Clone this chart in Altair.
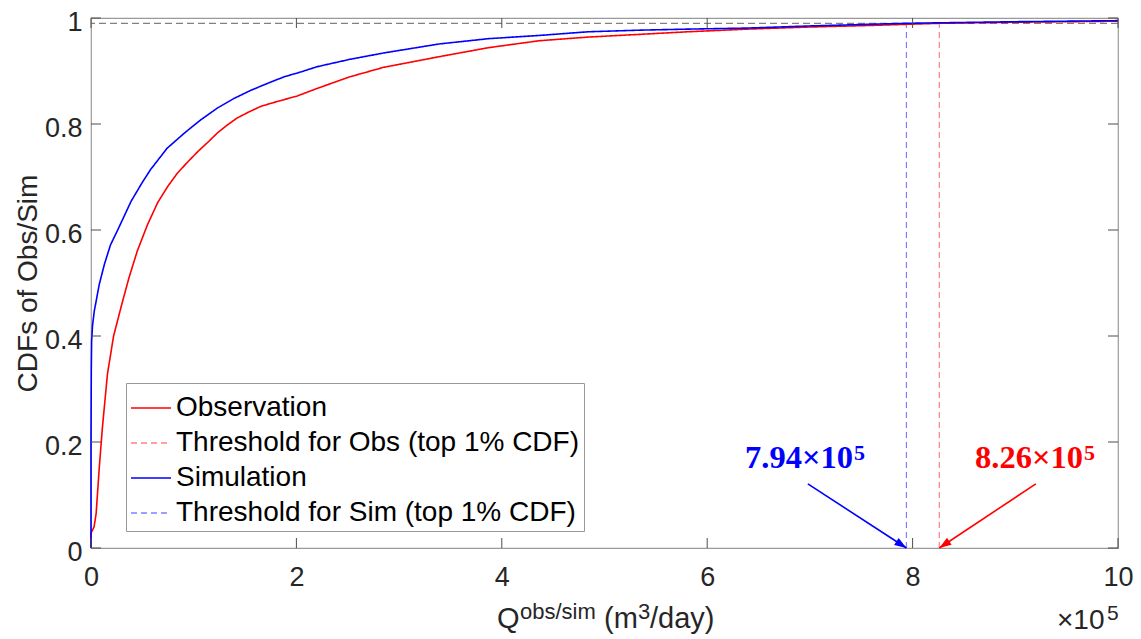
import math
import altair as alt
import pandas as pd

# ---------------- data (x in units of 1e5 m^3/day) ----------------
obs_x = [0, 0, 0.03, 0.05, 0.08, 0.11, 0.16, 0.22, 0.30, 0.37, 0.45, 0.55, 0.65, 0.75, 0.84,
         0.94, 1.04, 1.14, 1.23, 1.32, 1.42, 1.53, 1.65, 1.77, 1.88, 2.01, 2.20, 2.52, 2.85,
         3.04, 3.39, 3.87, 4.36, 4.84, 5.33, 5.81, 6.39, 7.00, 7.60, 8.26, 9.00, 10.0]
obs_y = [0, 0.028, 0.04, 0.065, 0.15, 0.225, 0.328, 0.40, 0.46, 0.51, 0.56, 0.61, 0.652, 0.683, 0.707,
         0.728, 0.748, 0.766, 0.783, 0.797, 0.811, 0.822, 0.833, 0.840, 0.846, 0.853, 0.867, 0.889, 0.907,
         0.914, 0.927, 0.944, 0.957, 0.964, 0.969, 0.974, 0.979, 0.983, 0.986, 0.990, 0.992, 0.994]
sim_x = [0, 0, 0.003, 0.006, 0.015, 0.032, 0.08, 0.13, 0.19, 0.26, 0.39, 0.50, 0.58, 0.74, 0.91,
         1.07, 1.23, 1.39, 1.55, 1.71, 1.88, 2.04, 2.20, 2.52, 2.85, 3.04, 3.39, 3.87, 4.36,
         4.84, 5.33, 5.81, 6.39, 7.00, 7.94, 9.00, 10.0]
sim_y = [0, 0.20, 0.341, 0.39, 0.42, 0.447, 0.497, 0.535, 0.572, 0.60, 0.654, 0.69, 0.714, 0.754, 0.783,
         0.808, 0.830, 0.848, 0.863, 0.876, 0.889, 0.898, 0.908, 0.922, 0.934, 0.940, 0.951, 0.961, 0.967,
         0.974, 0.977, 0.979, 0.981, 0.985, 0.990, 0.993, 0.995]

thr_obs = 8.26
thr_sim = 7.94
top_level = 0.99

series = ["Observation", "Threshold for Obs (top 1% CDF)",
          "Simulation", "Threshold for Sim (top 1% CDF)"]
colors = ["#ff0000", "#ff8080", "#0000ff", "#8080ff"]
dashes = [[1, 0], [6, 4], [1, 0], [6, 4]]

x_ticks = [0, 2, 4, 6, 8, 10]
y_ticks = [0, 0.2, 0.4, 0.6, 0.8, 1]

# arrows: tail (x, y) -> tip (x, y)
arrow_sim = [6.98, 0.121, thr_sim, 0.0]
arrow_obs = [9.20, 0.121, thr_obs, 0.0]

# ---------------- layout ----------------
W, H = 1027, 530
TICK = 10
tick_color = "#4d4d4d"
sans = "Liberation Sans"
serif = "Liberation Serif"

xs = alt.Scale(domain=[0, 10], nice=False, zero=False)
ys = alt.Scale(domain=[0, 1], nice=False, zero=False)

ax_x = alt.Axis(values=x_ticks, format="d", title=None, labelFlush=False,
                labelPadding=16, labelOverlap=False)
ax_y = alt.Axis(values=y_ticks, format="~g", title="CDFs of Obs/Sim",
                labelPadding=9, titlePadding=2, labelOverlap=False, labelFlush=False,
                labelOffset=4)

leg = alt.Legend(orient="none", legendX=35, legendY=365, title=None,
                 symbolType="stroke", symbolSize=1600, symbolStrokeWidth=1.5,
                 labelFont=sans, labelFontSize=28, labelColor="#000000",
                 labelLimit=0, labelOffset=4, strokeColor="#999999",
                 fillColor="#ffffff", padding=4, rowPadding=0)

color = alt.Color("series:N", scale=alt.Scale(domain=series, range=colors), legend=leg)
dash = alt.StrokeDash("series:N", scale=alt.Scale(domain=series, range=dashes), legend=leg)


def X(f):
    return alt.X(f, scale=xs, axis=ax_x)


def Y(f):
    return alt.Y(f, scale=ys, axis=ax_y)


curves = pd.DataFrame({
    "x": obs_x + sim_x,
    "y": obs_y + sim_y,
    "series": [series[0]] * len(obs_x) + [series[2]] * len(sim_x),
    "order": list(range(len(obs_x))) + list(range(len(sim_x))),
})
thr = pd.DataFrame({"x": [thr_obs, thr_sim], "y": [0.0, 0.0], "y2": [top_level, top_level],
                    "series": [series[1], series[3]]})

hline = alt.Chart(pd.DataFrame({"y": [top_level]})).mark_rule(
    color="#808080", strokeDash=[7, 4], strokeWidth=1.2
).encode(y=Y("y:Q"))

thr_layer = alt.Chart(thr).mark_rule(strokeWidth=1.2).encode(
    x=X("x:Q"), y=Y("y:Q"), y2="y2:Q", color=color, strokeDash=dash,
)

lines = alt.Chart(curves).mark_line(strokeWidth=1.6).encode(
    x=X("x:Q"), y=Y("y:Q"), color=color, strokeDash=dash, order="order:Q",
)

xt = pd.DataFrame({"x": x_ticks})
yt = pd.DataFrame({"y": y_ticks})
ticks = [
    alt.Chart(xt).mark_rule(color=tick_color).encode(
        x=X("x:Q"), y=alt.value(H), y2=alt.value(H - TICK)),
    alt.Chart(xt).mark_rule(color=tick_color).encode(
        x=X("x:Q"), y=alt.value(0), y2=alt.value(TICK)),
    alt.Chart(yt).mark_rule(color=tick_color).encode(
        y=Y("y:Q"), x=alt.value(0), x2=alt.value(TICK)),
    alt.Chart(yt).mark_rule(color=tick_color).encode(
        y=Y("y:Q"), x=alt.value(W), x2=alt.value(W - TICK)),
]


def arrow(a, col):
    df = pd.DataFrame({"x": [a[0]], "y": [a[1]], "x1": [a[2]], "y1": [a[3]]})
    dxp = (a[2] - a[0]) * W / 10.0
    dyp = -(a[3] - a[1]) * H / 1.0
    ang = math.degrees(math.atan2(dxp, -dyp)) % 360
    shaft = alt.Chart(df).mark_rule(color=col, strokeWidth=1.6).encode(
        x=X("x:Q"), y=Y("y:Q"), x2="x1:Q", y2="y1:Q")
    tip = pd.DataFrame({"x": [a[2]], "y": [a[3]]})
    head = alt.Chart(tip).mark_point(
        shape="M0,0L-0.7,2L0.7,2Z", filled=True, size=144, angle=ang,
        color=col, opacity=1, strokeWidth=0
    ).encode(x=X("x:Q"), y=Y("y:Q"))
    return [shaft, head]


def txt(s, x, y, size, col="#262626", font=sans, weight="normal"):
    return alt.Chart(pd.DataFrame({"a": [0]})).mark_text(
        text=s, align="left", baseline="alphabetic", fontSize=size, font=font,
        fontWeight=weight, color=col
    ).encode(x=alt.value(x), y=alt.value(y))


texts = [
    # x-axis title: Q^{obs/sim} (m^3/day)
    txt("Q", 406, 610, 29),
    txt("obs/sim", 429, 601, 22),
    txt("(m", 513, 610, 29),
    txt("3", 547, 601, 22),
    txt("/day)", 559, 610, 29),
    # exponent of the x axis
    txt("\u00d710", 966, 611, 28),
    txt("5", 1016, 602, 21),
    # annotations
    txt("7.94\u00d710", 654, 450, 32.5, "#0000ff", serif, "bold"),
    txt("5", 763, 442, 22, "#0000ff", serif, "bold"),
    txt("8.26\u00d710", 884, 450, 32.5, "#ff0000", serif, "bold"),
    txt("5", 993, 442, 22, "#ff0000", serif, "bold"),
]

chart = alt.layer(
    hline, thr_layer, lines, *ticks,
    *arrow(arrow_sim, "#0000ff"), *arrow(arrow_obs, "#ff0000"),
    *texts,
).properties(
    width=W, height=H,
    padding={"left": 83, "top": 10, "right": 15, "bottom": 87},
    autosize=alt.AutoSizeParams(type="none"),
    background="#ffffff",
).configure_view(
    stroke="#999999", strokeWidth=1.2
).configure_axis(
    domain=False, ticks=False, grid=False,
    labelFont=sans, labelFontSize=27, labelColor="#262626",
    titleFont=sans, titleFontSize=28, titleColor="#262626", titleFontWeight="normal",
)

chart.save("out.html", embed_options={"renderer": "svg", "actions": False})
